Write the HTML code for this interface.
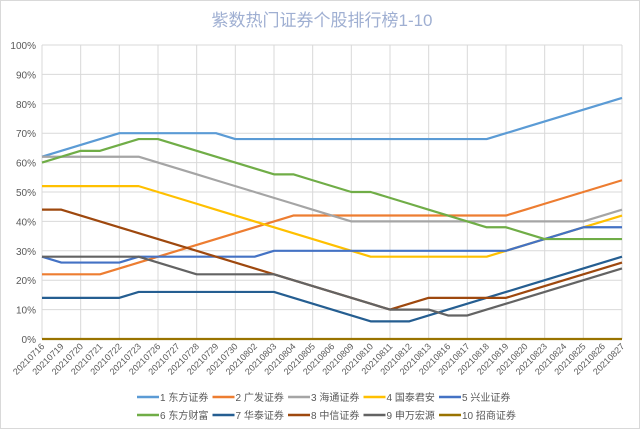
<!DOCTYPE html>
<html><head><meta charset="utf-8">
<style>
body{margin:0;background:#fff;}
svg{display:block;font-family:"Liberation Sans","Noto Sans CJK SC",sans-serif;}
</style></head>
<body>
<svg id="chart" width="640" height="429" viewBox="0 0 640 429">
<rect x="0.5" y="0.5" width="639" height="428" fill="#fff" stroke="#d9d9d9"/>
<text x="322" y="26" text-anchor="middle" font-size="17" fill="#9fafd2">紫数热门证券个股排行榜1-10</text>
<g id="grid"></g><g id="series"></g><g id="axes"></g><g id="legend"></g>
</svg>
<script>
const categories=["20210716","20210719","20210720","20210721","20210722","20210723","20210726","20210727","20210728","20210729","20210730","20210802","20210803","20210804","20210805","20210806","20210809","20210810","20210811","20210812","20210813","20210816","20210817","20210818","20210819","20210820","20210823","20210824","20210825","20210826","20210827"];
const seriesNames=["1 东方证券","2 广发证券","3 海通证券","4 国泰君安","5 兴业证券","6 东方财富","7 华泰证券","8 中信证券","9 申万宏源","10 招商证券"];
const s1=[62,64,66,68,70,70,70,70,70,70,68,68,68,68,68,68,68,68,68,68,68,68,68,68,70,72,74,76,78,80,82];
const s2=[22,22,22,22,24,26,28,30,32,34,36,38,40,42,42,42,42,42,42,42,42,42,42,42,42,44,46,48,50,52,54];
const s3=[62,62,62,62,62,62,60,58,56,54,52,50,48,46,44,42,40,40,40,40,40,40,40,40,40,40,40,40,40,42,44];
const s4=[52,52,52,52,52,52,50,48,46,44,42,40,38,36,34,32,30,28,28,28,28,28,28,28,30,32,34,36,38,40,42];
const s5=[28,26,26,26,26,28,28,28,28,28,28,28,30,30,30,30,30,30,30,30,30,30,30,30,30,32,34,36,38,38,38];
const s6=[60,62,64,64,66,68,68,66,64,62,60,58,56,56,54,52,50,50,48,46,44,42,40,38,38,36,34,34,34,34,34];
const s7=[14,14,14,14,14,16,16,16,16,16,16,16,16,14,12,10,8,6,6,6,8,10,12,14,16,18,20,22,24,26,28];
const s8=[44,44,42,40,38,36,34,32,30,28,26,24,22,20,18,16,14,12,10,12,14,14,14,14,14,16,18,20,22,24,26];
const s9=[28,28,28,28,28,28,26,24,22,22,22,22,22,20,18,16,14,12,10,10,10,8,8,10,12,14,16,18,20,22,24];
const s10=[0,0,0,0,0,0,0,0,0,0,0,0,0,0,0,0,0,0,0,0,0,0,0,0,0,0,0,0,0,0,0];
const yTicks=[0,10,20,30,40,50,60,70,80,90,100];
const colors=["#5B9BD5","#ED7D31","#A5A5A5","#FFC000","#4472C4","#70AD47","#255E91","#9E480E","#636363","#997300"];
const allSeries=[s1,s2,s3,s4,s5,s6,s7,s8,s9,s10];
const NS="http://www.w3.org/2000/svg";
const X0=42,X1=622,Y0=339,Y1=45;
const xs=i=>X0+(X1-X0)*i/(categories.length-1);
const ys=v=>Y0-(Y0-Y1)*v/100;
function mk(t,a,p){const e=document.createElementNS(NS,t);for(const k in a)e.setAttribute(k,a[k]);p.appendChild(e);return e;}
const grid=document.getElementById('grid'),axes=document.getElementById('axes'),ser=document.getElementById('series'),leg=document.getElementById('legend');
yTicks.forEach(v=>{
  const l=mk('line',{x1:X0,x2:X1,y1:ys(v),y2:ys(v),stroke:'#d9d9d9','stroke-width':1},grid);
  
  
  const t=mk('text',{x:36,y:ys(v)+4,'text-anchor':'end','font-size':10,fill:'#595959'},axes);
  t.textContent=v+'%';
  
  
});
categories.forEach((c,i)=>{
  if(i%2===0){
    const g=mk('line',{x1:xs(i),x2:xs(i),y1:Y1,y2:Y0,stroke:'#d9d9d9','stroke-width':1},grid);
    
    
  }
  const t=mk('text',{x:xs(i)+3,y:Y0+8,'text-anchor':'end','font-size':9,fill:'#595959',transform:`rotate(-45 ${xs(i)+3} ${Y0+8})`},axes);
  t.textContent=c;
  
  
});
allSeries.forEach((s,k)=>{
  const p=mk('polyline',{points:s.map((v,i)=>xs(i)+','+ys(v)).join(' '),fill:'none',stroke:colors[k],'stroke-width':2.2,'stroke-linejoin':'round'},ser);
  
  
});
seriesNames.forEach((n,k)=>{
  const row=Math.floor(k/5),col=k%5;
  const x=137+col*75.5,y=row?415:397;
  const g=mk('g',{},leg);
  
  
  mk('line',{x1:x,x2:x+22,y1:y,y2:y,stroke:colors[k],'stroke-width':2.5},g);
  const t=mk('text',{x:x+23,y:y+4,'font-size':10,fill:'#595959'},g);
  t.textContent=n;
});
</script>
</body></html>
